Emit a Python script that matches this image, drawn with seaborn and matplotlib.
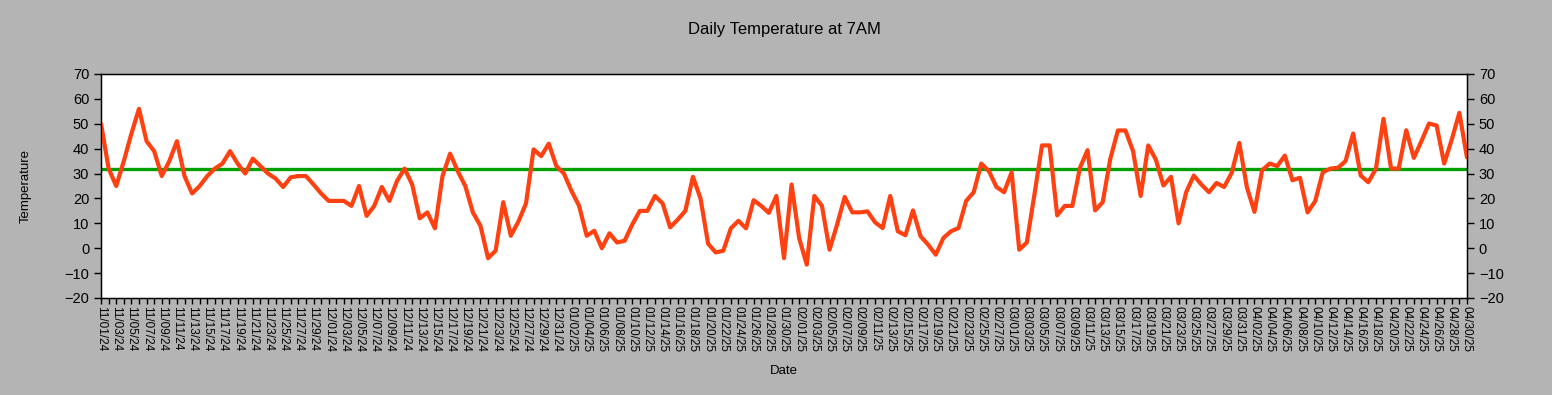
import pandas as pd
import matplotlib
matplotlib.use('Agg')
import matplotlib.pyplot as plt
import matplotlib.dates as mdates
import seaborn as sns

# Daily readings at 7AM, 11/01/24 - 04/30/25
start_date = '2024-11-01'
end_date = '2025-04-30'
freezing = 32

temps_nov = [50, 32, 25, 35, 46, 56, 43, 39, 29, 35, 43, 29, 22, 25, 29, 32, 34, 39, 34, 30,
             36, 33, 30, 28, 24.6, 28.5, 29, 29, 25.6, 22]
temps_dec = [19, 19, 19, 17, 25, 13, 17, 24.6, 19, 27, 32, 25.6, 12, 14.4, 8, 29, 38, 31, 25, 14.4,
             9, -4, -1, 18.5, 5, 10.7, 18, 39.7, 37, 42, 33]
temps_jan = [30, 23, 17, 5, 7, 0, 6, 2.3, 3, 9.5, 15, 15, 21, 18, 8.4, 11.5, 15, 28.7, 20, 1.8,
             -1.7, -1, 8, 11, 8, 19.3, 17, 14.2, 21, -4, 25.6]
temps_feb = [4, -6.6, 21, 17, -0.6, 9.5, 20.6, 14.4, 14.4, 14.8, 10.4, 8.1, 21, 6.8, 5.2, 15.2,
             4.8, 1.4, -2.6, 4.1, 6.8, 8.1, 19, 22.5, 34, 31, 24.6, 22.5]
temps_mar = [30.5, -0.6, 2.3, 21.5, 41.3, 41.3, 13.2, 17, 17, 32.3, 39.4, 15.2, 18.5, 35.9, 47.3,
             47.3, 39, 21, 41.3, 35.6, 25.2, 28.7, 10, 22.5, 29.2, 25.6, 22.5, 26.2, 24.6, 30.3, 42.3]
temps_apr = [24.5, 14.6, 31.3, 34, 33, 37.2, 27.3, 28.3, 14.4, 18.9, 30.5, 32, 32.3, 35, 46.1,
             29.2, 26.5, 31.9, 52, 32, 32, 47.4, 36.3, 43, 50.1, 49.3, 34, 43.7, 54.4, 36.5]

temps = temps_nov + temps_dec + temps_jan + temps_feb + temps_mar + temps_apr
dates = pd.date_range(start_date, end_date, freq='D')
df = pd.DataFrame({'Date': dates, 'Temperature': temps})

sns.set_style('white')
plt.rcParams['font.family'] = ['Liberation Sans', 'DejaVu Sans']
plt.rcParams['text.color'] = 'black'
plt.rcParams['xtick.color'] = 'black'
plt.rcParams['ytick.color'] = 'black'
plt.rcParams['axes.labelcolor'] = 'black'
bg = '#b4b4b4'

fig = plt.figure(figsize=(15.52, 3.95), dpi=100, facecolor=bg)
ax = fig.add_axes([0.0651, 0.2456, 0.8801, 0.5671])
ax.set_facecolor('white')

ax.axhline(freezing, color='#00a000', linewidth=2.4, zorder=2)
sns.lineplot(data=df, x='Date', y='Temperature', ax=ax, color='#ff4010', linewidth=3.0, zorder=3)

ax.set_ylim(-20, 70)
ax.set_yticks(range(-20, 71, 10))
ax.set_xlim(dates[0], dates[-1])
ax.xaxis.set_minor_locator(mdates.DayLocator())

# labels every 2 days starting at 11/01
ticks = dates[::2]
ax.set_xticks(ticks)
ax.set_xticklabels([d.strftime('%m/%d/%y') for d in ticks], rotation=270, fontsize=8.5)
ax.tick_params(axis='x', which='both', direction='out', length=4, width=1, color='black', pad=2,
               bottom=True)
ax.tick_params(axis='y', direction='out', length=5, width=1, color='black', labelsize=10.5,
               left=True)

for s in ax.spines.values():
    s.set_color('black')
    s.set_linewidth(1)

ax2 = ax.twinx()
ax2.set_ylim(-20, 70)
ax2.set_yticks(range(-20, 71, 10))
ax2.tick_params(axis='y', direction='out', length=5, width=1, color='black', labelsize=10.5,
                right=True)
for s in ax2.spines.values():
    s.set_color('black')

ax.set_title('Daily Temperature at 7AM', fontsize=12, pad=29)
ax.set_ylabel('Temperature', fontsize=9.5)
ax.yaxis.set_label_coords(-0.0505, 0.5)
ax.set_xlabel('Date', fontsize=9.5, labelpad=9)

fig.savefig('out.png', dpi=100, facecolor=bg)
